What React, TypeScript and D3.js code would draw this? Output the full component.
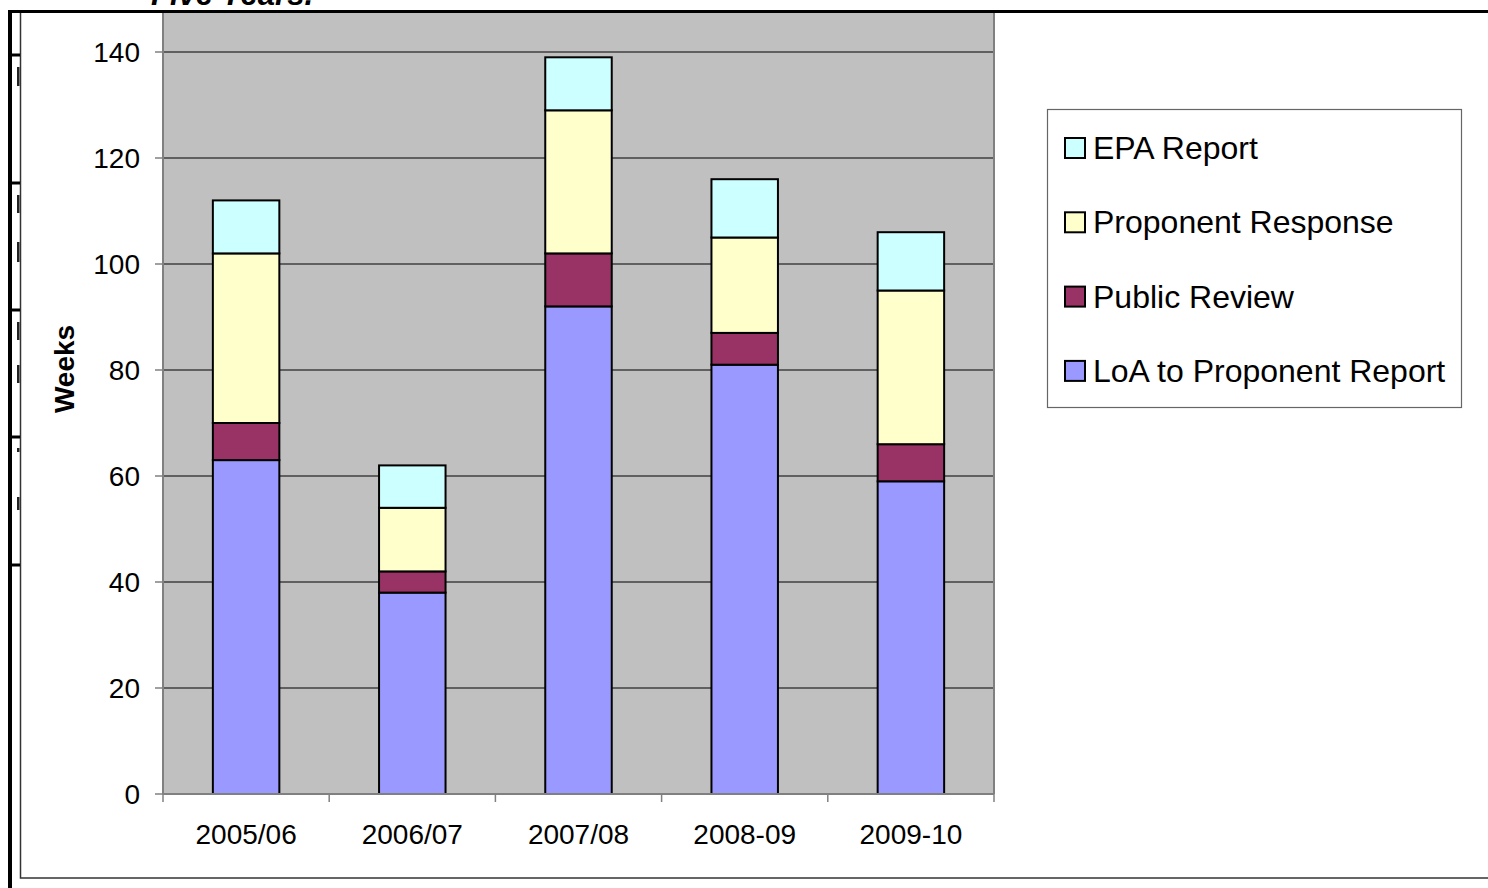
import React from "react";
import * as d3 from "d3";

const categories = ["2005/06", "2006/07", "2007/08", "2008-09", "2009-10"];
const seriesNames = ["LoA to Proponent Report", "Public Review", "Proponent Response", "EPA Report"];
const loaToProponent = [63, 38, 92, 81, 59];
const publicReview = [7, 4, 10, 6, 7];
const proponentResponse = [32, 12, 27, 18, 29];
const epaReport = [10, 8, 10, 11, 11];
const seriesColors = ["#9999FF", "#993366", "#FFFFCC", "#CCFFFF"];
const yTicks = [0, 20, 40, 60, 80, 100, 120, 140];
const legendOrder = [3, 2, 1, 0];
const leftStubs = [55, 183, 310, 437, 565];
const leftFragments: [number, number][] = [
  [67, 86], [195, 213], [242, 262], [322, 340], [365, 383], [448, 452], [497, 510],
];

const W = 1488;
const H = 888;
const plot = { left: 163, right: 994, top: 13, bottom: 794 };
const font = "'Liberation Sans', Arial, sans-serif";

export default function App() {
  const x = d3.scaleBand<string>().domain(categories).range([plot.left, plot.right]).paddingInner(0.6).paddingOuter(0.3);
  const y = d3.scaleLinear().domain([0, 140]).range([plot.bottom, 52]);
  const table = categories.map((c, i) => ({
    cat: c,
    s0: loaToProponent[i],
    s1: publicReview[i],
    s2: proponentResponse[i],
    s3: epaReport[i],
  }));
  const stack = d3.stack<any>().keys(["s0", "s1", "s2", "s3"])(table);
  const step = x.step();
  const boundaries = d3.range(categories.length + 1).map((i) => plot.left + i * step);

  return (
    <div style={{ position: "absolute", left: 0, top: 0 }}>
      <svg width={W} height={H} style={{ display: "block", background: "#fff" }} fontFamily={font}>
        {/* heading, cut off at the top of the page as in the source */}
        <text x={151} y={5} fontSize={31} fontWeight="bold" fontStyle="italic" fill="#000">Five Years.</text>
        {/* chart frame */}
        <rect x={20.5} y={12} width={W} height={866} fill="#fff" stroke="#333" strokeWidth={1.5} />
        {/* plot area */}
        <rect x={plot.left} y={plot.top} width={plot.right - plot.left} height={plot.bottom - plot.top} fill="#C0C0C0" />
        {yTicks.map((t) => (
          <line key={"g" + t} x1={plot.left} x2={plot.right} y1={y(t)} y2={y(t)} stroke="#000" strokeWidth={1.2} />
        ))}
        <line x1={plot.left} x2={plot.left} y1={plot.top} y2={plot.bottom} stroke="#808080" strokeWidth={2} />
        <line x1={plot.right} x2={plot.right} y1={plot.top} y2={plot.bottom} stroke="#808080" strokeWidth={2} />
        {/* bars */}
        {stack.map((layer, si) =>
          layer.map((d, ci) => (
            <rect
              key={si + "-" + ci}
              x={x(categories[ci])!}
              y={y(d[1])}
              width={x.bandwidth()}
              height={y(d[0]) - y(d[1])}
              fill={seriesColors[si]}
              stroke="#000"
              strokeWidth={2}
            />
          ))
        )}
        {/* axes */}
        <line x1={plot.left} x2={plot.right} y1={plot.bottom} y2={plot.bottom} stroke="#808080" strokeWidth={2} />
        {boundaries.map((b, i) => (
          <line key={"xt" + i} x1={b} x2={b} y1={plot.bottom} y2={plot.bottom + 8} stroke="#808080" strokeWidth={1.5} />
        ))}
        {yTicks.map((t) => (
          <g key={"yt" + t}>
            <line x1={plot.left - 8} x2={plot.left} y1={y(t)} y2={y(t)} stroke="#808080" strokeWidth={1.5} />
            <text x={140} y={y(t)} dy="0.35em" textAnchor="end" fontSize={28} fill="#000">{t}</text>
          </g>
        ))}
        {categories.map((c) => (
          <text key={"xl" + c} x={x(c)! + x.bandwidth() / 2} y={844} textAnchor="middle" fontSize={28} fill="#000">{c}</text>
        ))}
        <text transform="translate(74,369) rotate(-90)" textAnchor="middle" fontSize={28} fontWeight="bold" fill="#000">Weeks</text>
        {/* legend */}
        <rect x={1047.5} y={109.5} width={414} height={298} fill="#fff" stroke="#666" strokeWidth={1.2} />
        {legendOrder.map((si, i) => {
          const cy = 148 + i * 74.3;
          return (
            <g key={"lg" + si}>
              <rect x={1065} y={cy - 10} width={20} height={20} fill={seriesColors[si]} stroke="#000" strokeWidth={2} />
              <text x={1093} y={cy + 11} fontSize={32} fill="#000">{seriesNames[si]}</text>
            </g>
          );
        })}
        {/* surrounding page table fragments */}
        <line x1={8} x2={W} y1={11.5} y2={11.5} stroke="#000" strokeWidth={3} />
        <line x1={10} x2={10} y1={10} y2={H} stroke="#000" strokeWidth={4} />
        {leftStubs.map((s) => (
          <line key={"st" + s} x1={8} x2={20} y1={s} y2={s} stroke="#000" strokeWidth={3} />
        ))}
        {leftFragments.map(([a, b], i) => (
          <rect key={"fr" + i} x={17} y={a} width={2.5} height={b - a} fill="#222" />
        ))}
      </svg>
    </div>
  );
}
